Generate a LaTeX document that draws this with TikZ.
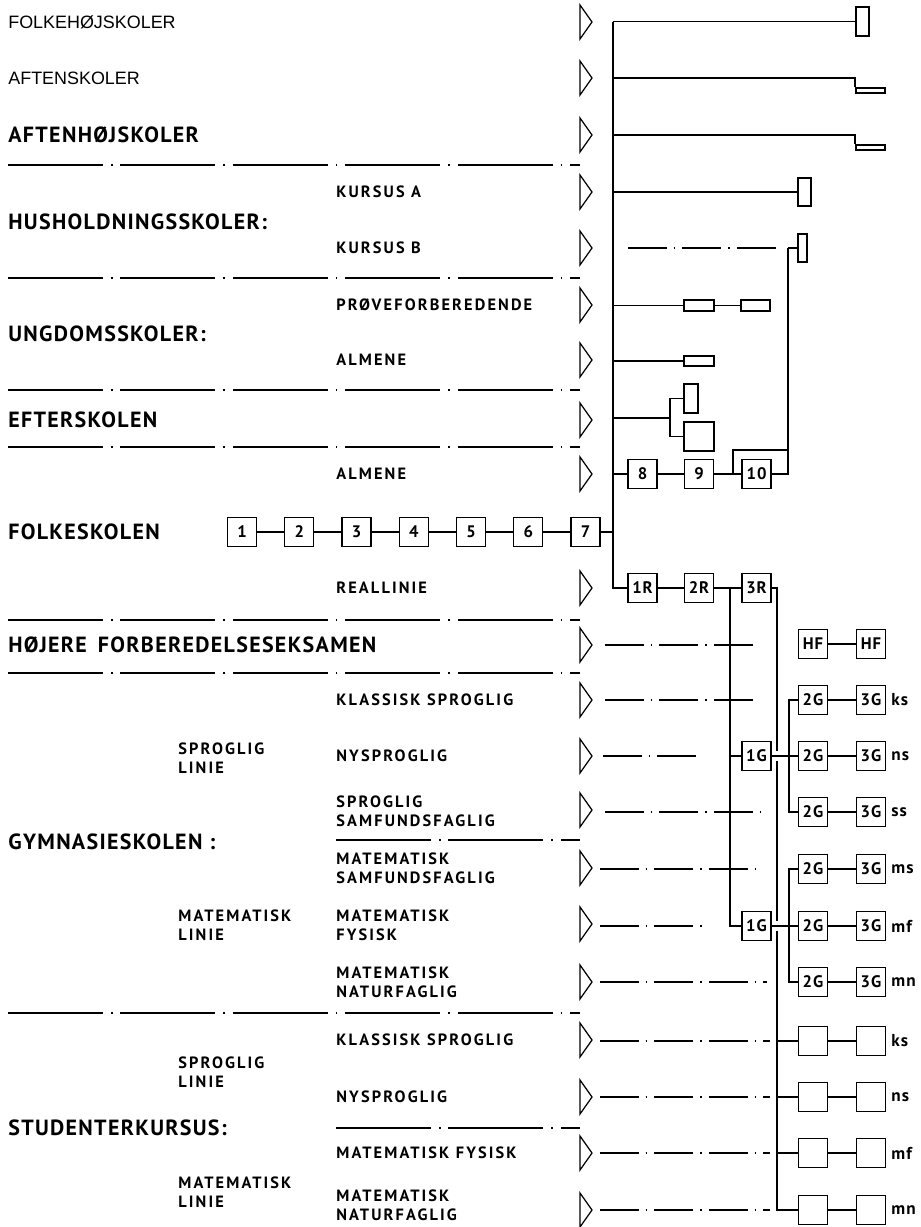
\documentclass[tikz,border=0pt]{standalone}
\usepackage{fontspec}
\setmainfont{PT Sans}
\newfontfamily\arialfont{Liberation Sans}
\newfontfamily\dinfont[LetterSpace=6]{PT Sans}
\newfontfamily\dinsmall[LetterSpace=13]{PT Sans}

\begin{document}
\begin{tikzpicture}[x=0.02cm,y=-0.02cm,
  yr/.style={draw,line width=0.8pt,minimum width=0.58cm,minimum height=0.58cm,inner sep=0pt,font=\dinfont\bfseries\fontsize{9.5}{9.5}\selectfont},
  bar/.style={draw,line width=0.8pt,inner sep=0pt},
  ln/.style={line width=1.1pt},
  dd/.style={line width=0.6pt,dash pattern=on 22pt off 4pt on 1pt off 4pt},
  sep/.style={line width=0.6pt,dash pattern=on 54pt off 4.5pt on 1pt off 4.5pt},
  tri/.style={line width=0.7pt,line join=miter},
  head/.style={anchor=west,inner sep=0pt,font=\dinfont\bfseries\fontsize{12.5}{13}\selectfont},
  sub/.style={anchor=west,inner sep=0pt,align=left,font=\dinsmall\bfseries\fontsize{9.3}{11}\selectfont},
  tag/.style={anchor=west,inner sep=0pt,font=\dinfont\bfseries\fontsize{9.8}{9.8}\selectfont}]
\useasboundingbox (0,0) rectangle (920,1227);
\coordinate (sp) at (613,0);

\node[head,font=\arialfont\fontsize{10.2}{10.5}\selectfont] (nfh) at (8,22) {FOLKEHØJSKOLER};
\node[head,font=\arialfont\fontsize{10.2}{10.5}\selectfont] (nas) at (8,78) {AFTENSKOLER};
\node[head] (nah) at (8,135) {AFTENHØJSKOLER};
\node[head] (nhu) at (8,222) {HUSHOLDNINGSSKOLER:};
\node[head] (nun) at (8,334) {UNGDOMSSKOLER:};
\node[head] (nef) at (8,420) {EFTERSKOLEN};
\node[head] (nfo) at (8,532) {FOLKESKOLEN};
\node[head] (nhf) at (8,645) {HØJERE\hspace{0.5em}FORBEREDELSESEKSAMEN};
\node[head] (ngy) at (8,842) {GYMNASIESKOLEN :};
\node[head] (nst) at (8,1128) {STUDENTERKURSUS:};

\node[sub] (lgs) at (178,758) {SPROGLIG\\LINIE};
\node[sub] (lgm) at (178,925) {MATEMATISK\\LINIE};
\node[sub] (lss) at (178,1072) {SPROGLIG\\LINIE};
\node[sub] (lsm) at (178,1192) {MATEMATISK\\LINIE};

\node[sub] (cka) at (336,192) {KURSUS A};
\node[sub] (ckb) at (336,248) {KURSUS B};
\node[sub] (cup) at (336,305) {PRØVEFORBEREDENDE};
\node[sub] (cua) at (336,360) {ALMENE};
\node[sub] (cfa) at (336,474) {ALMENE};
\node[sub] (cre) at (336,588) {REALLINIE};
\node[sub] (cgks) at (336,700) {KLASSISK\hspace{0.4em}SPROGLIG};
\node[sub] (cgns) at (336,756) {NYSPROGLIG};
\node[sub] (cgss) at (336,811) {SPROGLIG\\SAMFUNDSFAGLIG};
\node[sub] (cgms) at (336,868) {MATEMATISK\\SAMFUNDSFAGLIG};
\node[sub] (cgmf) at (336,925) {MATEMATISK\\FYSISK};
\node[sub] (cgmn) at (336,982) {MATEMATISK\\NATURFAGLIG};
\node[sub] (csks) at (336,1040) {KLASSISK\hspace{0.4em}SPROGLIG};
\node[sub] (csns) at (336,1097) {NYSPROGLIG};
\node[sub] (csmf) at (336,1153) {MATEMATISK\hspace{0.4em}FYSISK};
\node[sub] (csmn) at (336,1205) {MATEMATISK\\NATURFAGLIG};

\foreach \y in {165,278,390,447,620,673,1013}
  \draw[sep] (8,\y) -- (580,\y);
\foreach \y in {840,1128}
  \draw[sep] (336,\y) -- (580,\y);
\foreach \y in {22,78,135,192,248,305,360,420,474,588,645,700,756,810,868,924,982,1040,1097,1153,1210}
  \draw[tri] (580,\y-17) -- (592,\y) -- (580,\y+17) -- cycle;

\node[bar,minimum width=0.26cm,minimum height=0.58cm] (fh) at (862.5,21.5) {};
\node[bar,minimum width=0.58cm,minimum height=0.1cm] (as) at (870.5,90.5) {};
\node[bar,minimum width=0.58cm,minimum height=0.1cm] (ah) at (870.5,147.5) {};
\node[bar,minimum width=0.26cm,minimum height=0.56cm] (ka) at (804.5,192) {};
\node[bar,minimum width=0.18cm,minimum height=0.56cm] (kb) at (802.5,248) {};
\node[bar,minimum width=0.6cm,minimum height=0.22cm] (up1) at (699,305.5) {};
\node[bar,minimum width=0.58cm,minimum height=0.22cm] (up2) at (755.5,305.5) {};
\node[bar,minimum width=0.6cm,minimum height=0.2cm] (ua) at (699,361) {};
\node[bar,minimum width=0.28cm,minimum height=0.58cm] (es1) at (691,398.5) {};
\node[bar,minimum width=0.6cm,minimum height=0.58cm] (es2) at (699,436.5) {};

\node[yr] (r1) at (642.5,588) {1R};
\node[yr] (r2) at (699,588) {2R};
\node[yr] (r3) at (756.5,588) {3R};
\draw[ln] (r1) -- (r2) -- (r3);

\coordinate (as0) at (613,78);
\coordinate (ah0) at (613,135);
\draw[ln] (sp |- fh.west) |- (r1.west);
\draw[ln] (sp |- fh.west) -- (fh.west);
\draw[ln] (as0) -| (as.north west);
\draw[ln] (ah0) -| (ah.north west);
\draw[ln] (sp |- ka.west) -- (ka.west);
\draw[ln] (sp |- up1.west) -- (up1.west);
\draw[ln] (up1) -- (up2);
\draw[ln] (sp |- ua.west) -- (ua.west);
\coordinate (ej) at (670,418);
\draw[ln] (sp |- ej) -- (ej);
\draw[ln] (es1.west) -| (ej) |- (es2.west);

\node[yr] (k8) at (642.5,474) {8};
\node[yr] (k9) at (699,474) {9};
\node[yr] (k10) at (756.5,474) {10};
\draw[ln] (sp |- k8.west) -- (k8) -- (k9) -- (k10);
\draw[dd] (628,248) -- (782,248);
\coordinate (kbj) at (788,248);
\coordinate (j10) at (733,474);
\draw[ln] (kbj) -- (kb.west);
\draw[ln] (kbj) |- (k10.east);
\draw[ln] (j10) |- (kbj |- 0,450);

\foreach \i in {1,...,7}
  \node[yr] (f\i) at ({242+57.25*(\i-1)},532) {\i};
\foreach \i [count=\j from 2] in {1,...,6}
  \draw[ln] (f\i) -- (f\j);
\draw[ln] (f7) -- (sp |- f7);

\node[yr] (hf1) at (813,644) {HF};
\node[yr] (hf2) at (871,644) {HF};
\draw[ln] (hf1) -- (hf2);

\node[yr] (g1a) at (756.5,756) {1G};
\node[yr] (g1b) at (756.5,926) {1G};
\foreach \n/\y in {ks/700,ns/756,ss/812,ms/869,mf/926,mn/982}{
  \node[yr] (g2\n) at (813,\y) {2G};
  \node[yr] (g3\n) at (871,\y) {3G};
  \node[tag] (t\n) at (891,\y) {\n};
  \draw[ln] (g2\n) -- (g3\n);
}
\foreach \n/\y in {ks/1041,ns/1097,mf/1153,mn/1210}{
  \node[yr] (s2\n) at (813,\y) {};
  \node[yr] (s3\n) at (871,\y) {};
  \node[tag] (u\n) at (891,\y) {\n};
  \draw[ln] (s2\n) -- (s3\n);
}

\coordinate (rj) at (730,588);
\coordinate (rs) at (777,588);
\draw[ln] (rj) |- (g1b.west);
\draw[ln] (rj |- g1a.west) -- (g1a.west);
\draw[ln] (r3.east) -- (rs) -- (777,751);
\draw[ln] (777,761) -- (777,921);
\draw[ln] (777,931) |- (s2mn.west);
\foreach \n in {ks,ns,mf}
  \draw[ln] (rs |- s2\n.west) -- (s2\n.west);
\draw[ln] (g1a) -- (g2ns);
\draw[ln] (g1b) -- (g2mf);
\draw[ln] (g2ks.west) -- ++(-9,0) |- (g2ss.west);
\draw[ln] (g2ms.west) -- ++(-9,0) |- (g2mn.west);

\draw[dd] (605,645) -- (754,645);
\draw[dd] (605,700) -- (754,700);
\draw[dd] (603,756) -- (700,756);
\draw[dd] (605,812) -- (763,812);
\draw[dd] (600,869) -- (763,869);
\draw[dd] (600,926) -- (707,926);
\draw[dd] (600,982) -- (767,982);
\foreach \y in {1041,1097,1153,1210}
  \draw[dd] (600,\y) -- (770,\y);
\end{tikzpicture}
\end{document}
